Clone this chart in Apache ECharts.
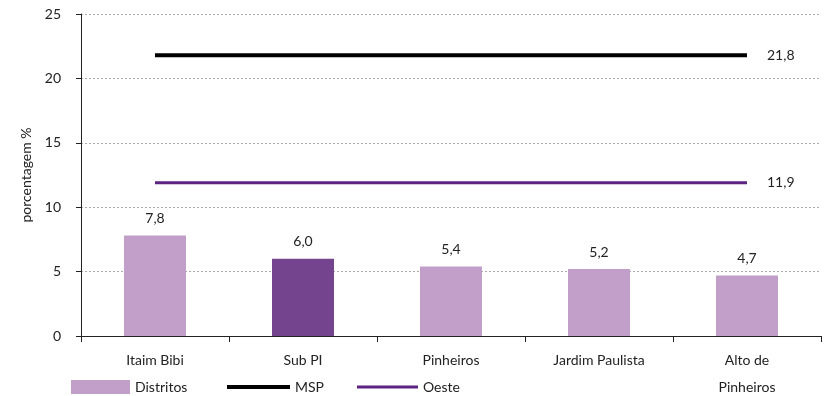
<!DOCTYPE html>
<html>
<head>
<meta charset="utf-8">
<script src="https://cdn.jsdelivr.net/npm/echarts@6/dist/echarts.min.js"></script>
<style>html,body{margin:0;padding:0;background:#fff}#c{width:827px;height:396px}</style>
</head>
<body>
<div id="c"></div>
<script>
const categories = ['Itaim Bibi', 'Sub PI', 'Pinheiros', 'Jardim Paulista', 'Alto de\nPinheiros'];
const distritos = [7.8, 6.0, 5.4, 5.2, 4.7];
const msp = [21.8, 21.8, 21.8, 21.8, 21.8];
const oeste = [11.9, 11.9, 11.9, 11.9, 11.9];
const highlightIndex = 1;

const FONT = 'Lato, "Open Sans", sans-serif';
const fmt = v => v.toFixed(1).replace('.', ',');

const endLabel = {
  show: true, distance: 20, formatter: p => fmt(p.value),
  color: '#222', fontSize: 14, fontFamily: FONT
};

const chart = echarts.init(document.getElementById('c'), null, { renderer: 'canvas' });
chart.setOption({
  animation: false,
  grid: { left: 81, right: 6, top: 14, bottom: 60, outerBoundsMode: 'none', containLabel: false },
  legend: [
    { data: ['Distritos'], left: 71, top: 380, padding: 0, itemWidth: 59, itemHeight: 14, icon: 'rect',
      textStyle: { fontSize: 14, color: '#222', fontFamily: FONT } },
    { data: ['MSP'], left: 227, top: 380, padding: 0, itemWidth: 63, itemHeight: 4, icon: 'rect',
      textStyle: { fontSize: 14, color: '#222', fontFamily: FONT } },
    { data: ['Oeste'], left: 357, top: 380, padding: 0, itemWidth: 61, itemHeight: 3, icon: 'rect',
      textStyle: { fontSize: 14, color: '#222', fontFamily: FONT } }
  ],
  xAxis: {
    type: 'category',
    data: categories,
    axisLine: { lineStyle: { color: '#222', width: 1 } },
    axisTick: { show: true, length: 6, lineStyle: { color: '#222' } },
    axisLabel: { color: '#222', fontSize: 14, fontFamily: FONT, margin: 11, lineHeight: 27, interval: 0, verticalAlign: 'top' }
  },
  yAxis: {
    type: 'value',
    min: 0, max: 25, interval: 5,
    name: 'porcentagem %',
    nameLocation: 'middle',
    nameGap: 46,
    nameTextStyle: { fontSize: 14, color: '#222', fontFamily: FONT },
    axisLine: { show: true, lineStyle: { color: '#222', width: 1 } },
    axisTick: { show: true, length: 5, lineStyle: { color: '#222' } },
    axisLabel: { color: '#222', fontSize: 14, fontFamily: FONT, margin: 20 },
    splitLine: { lineStyle: { type: [2, 2], color: '#aaa', width: 1 } }
  },
  series: [
    {
      name: 'Distritos', type: 'bar', barWidth: 62,
      color: '#c19fc9',
      data: distritos.map((v, i) => i === highlightIndex ? { value: v, itemStyle: { color: '#74448f' } } : v),
      label: { show: true, position: 'top', distance: 10, formatter: p => fmt(p.value), color: '#222', fontSize: 14, fontFamily: FONT }
    },
    {
      name: 'MSP', type: 'line', color: '#000', symbol: 'none',
      lineStyle: { width: 4, color: '#000' },
      endLabel: endLabel,
      data: msp
    },
    {
      name: 'Oeste', type: 'line', color: '#5c2381', symbol: 'none',
      lineStyle: { width: 3, color: '#5c2381' },
      endLabel: endLabel,
      data: oeste
    }
  ]
});
</script>
</body>
</html>
